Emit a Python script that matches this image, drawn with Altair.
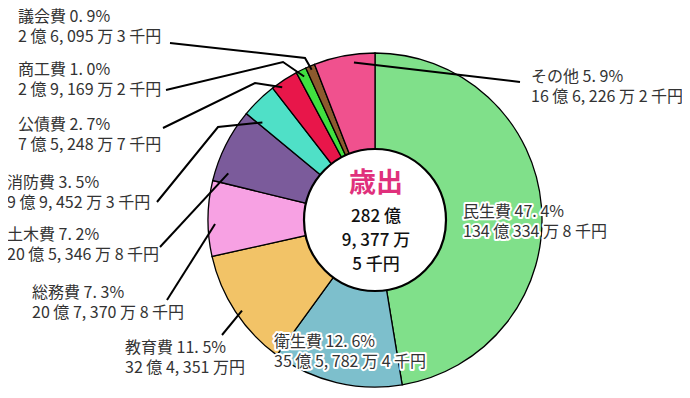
import math
import altair as alt
import pandas as pd

# ---- data ----
categories = ["民生費", "衛生費", "教育費", "総務費", "土木費", "消防費", "公債費", "商工費", "議会費", "その他"]
percents = [47.4, 12.6, 11.5, 7.3, 7.2, 3.5, 2.7, 1.0, 0.9, 5.9]
percent_labels = ["47. 4%", "12. 6%", "11. 5%", "7. 3%", "7. 2%", "3. 5%", "2. 7%", "1. 0%", "0. 9%", "5. 9%"]
amount_labels = [
    "134 億 334 万 8 千円",
    "35 億 5, 782 万 4 千円",
    "32 億 4, 351 万円",
    "20 億 7, 370 万 8 千円",
    "20 億 5, 346 万 8 千円",
    "9 億 9, 452 万 3 千円",
    "7 億 5, 248 万 7 千円",
    "2 億 9, 169 万 2 千円",
    "2 億 6, 095 万 3 千円",
    "16 億 6, 226 万 2 千円",
]
colors = ["#80e08a", "#7dbfcc", "#f2c367", "#f7a1e3", "#7b5b9b",
          "#4fe0c7", "#e8164a", "#40e040", "#8c5a2e", "#f0518e"]
center_title = "歳出"
center_lines = ["282 億", "9, 377 万", "5 千円"]

# ---- layout (page pixels) ----
OX, OY = 8, 8
CX, CY, R, R_IN = 375, 220, 167, 71
FONT = "Noto Sans CJK JP"
label_pos = {
    "議会費": (18, 17), "商工費": (18, 70), "公債費": (18, 125),
    "消防費": (7, 183), "土木費": (7, 235), "総務費": (32, 293),
    "教育費": (125, 348), "衛生費": (274, 342), "民生費": (463, 212),
    "その他": (531, 77),
}
inside = {"衛生費", "民生費"}
leaders = {
    "議会費": dict(start=(170, 43), elbow=(305, 58), r=163, dt=0),
    "商工費": dict(start=(166, 90), elbow=(283, 62), r=160, dt=0),
    "公債費": dict(start=(163, 128), elbow=(255, 83), r=162, dt=-2),
    "消防費": dict(start=(157, 202), elbow=(218, 127), r=149, dt=-5),
    "土木費": dict(start=(160, 247), elbow=None, r=154, dt=-9),
    "総務費": dict(start=(167, 300), elbow=None, r=160, dt=-2),
    "教育費": dict(start=(222, 335), elbow=None, r=161, dt=-1),
    "その他": dict(start=(520, 82), elbow=None, r=159, dt=3),
}

# ---- derived tables ----
pie_df = pd.DataFrame({"cat": categories, "value": percents, "idx": range(len(categories))})

total = sum(percents)
mid_angle = {}
cum = 0.0
for c, v in zip(categories, percents):
    mid_angle[c] = (cum + v / 2) / total * 360.0
    cum += v

line_rows = []
for c, L in leaders.items():
    pts = [L["start"]]
    if L["elbow"]:
        pts.append(L["elbow"])
    th = math.radians(mid_angle[c] + L["dt"])
    pts.append((CX + L["r"] * math.sin(th), CY - L["r"] * math.cos(th)))
    for i, (x, y) in enumerate(pts):
        line_rows.append({"cat": c, "seq": i, "x": x - OX, "y": y - OY})
lines_df = pd.DataFrame(line_rows)

text_rows = []
for c, p, a in zip(categories, percent_labels, amount_labels):
    x, y = label_pos[c]
    kind = "in" if c in inside else "out"
    text_rows.append({"cat": c, "kind": kind, "x": x - OX, "y": y - OY, "text": f"{c} {p}"})
    text_rows.append({"cat": c, "kind": kind, "x": x - OX, "y": y + 20 - OY, "text": a})
text_df = pd.DataFrame(text_rows)

center_df = pd.DataFrame({
    "text": center_lines,
    "y": [217 - OY, 241 - OY, 265 - OY],
})

# ---- chart ----
pie = alt.Chart(pie_df).mark_arc(outerRadius=R, innerRadius=0, stroke="black", strokeWidth=1.3).encode(
    theta=alt.Theta("value:Q", stack=True),
    order=alt.Order("idx:Q"),
    color=alt.Color("cat:N", scale=alt.Scale(domain=categories, range=colors), legend=None),
    x=alt.value(CX - OX),
    y=alt.value(CY - OY),
)

hole = alt.Chart(pd.DataFrame({"a": [0]})).mark_point(
    shape="circle", filled=True, fill="white", stroke="black", strokeWidth=2.2,
    size=(2 * R_IN) ** 2, opacity=1, fillOpacity=1,
).encode(x=alt.value(CX - OX), y=alt.value(CY - OY))

leader_lines = alt.Chart(lines_df).mark_line(color="black", strokeWidth=2).encode(
    x=alt.X("x:Q", scale=None, axis=None),
    y=alt.Y("y:Q", scale=None, axis=None),
    detail="cat:N",
    order="seq:Q",
)

txt_enc = dict(
    x=alt.X("x:Q", scale=None, axis=None),
    y=alt.Y("y:Q", scale=None, axis=None),
    text="text:N",
)
out_text = alt.Chart(text_df).transform_filter("datum.kind == 'out'").mark_text(
    align="left", baseline="middle", font=FONT, fontSize=16, color="#333333"
).encode(**txt_enc)
halo = alt.Chart(text_df).transform_filter("datum.kind == 'in'").mark_text(
    align="left", baseline="middle", font=FONT, fontSize=16, color="white",
    stroke="white", strokeWidth=4, strokeJoin="round"
).encode(**txt_enc)
in_text = alt.Chart(text_df).transform_filter("datum.kind == 'in'").mark_text(
    align="left", baseline="middle", font=FONT, fontSize=16, color="#333333"
).encode(**txt_enc)

title_txt = alt.Chart(pd.DataFrame({"text": [center_title]})).mark_text(
    align="center", baseline="middle", font=FONT, fontSize=27, fontWeight="bold", color="#e0307c"
).encode(x=alt.value(376 - OX), y=alt.value(184 - OY), text="text:N")

num_txt = alt.Chart(center_df).mark_text(
    align="center", baseline="middle", font=FONT, fontSize=17, fontWeight=500, color="#111111"
).encode(x=alt.value(376 - OX), y=alt.Y("y:Q", scale=None, axis=None), text="text:N")

chart = alt.layer(pie, hole, leader_lines, out_text, halo, in_text, title_txt, num_txt).properties(
    width=674, height=382, padding=0, autosize=alt.AutoSizeParams(type="none"),
    background="white",
).configure_view(stroke=None)

chart.save("out.html", embed_options={"renderer": "svg", "actions": False})
